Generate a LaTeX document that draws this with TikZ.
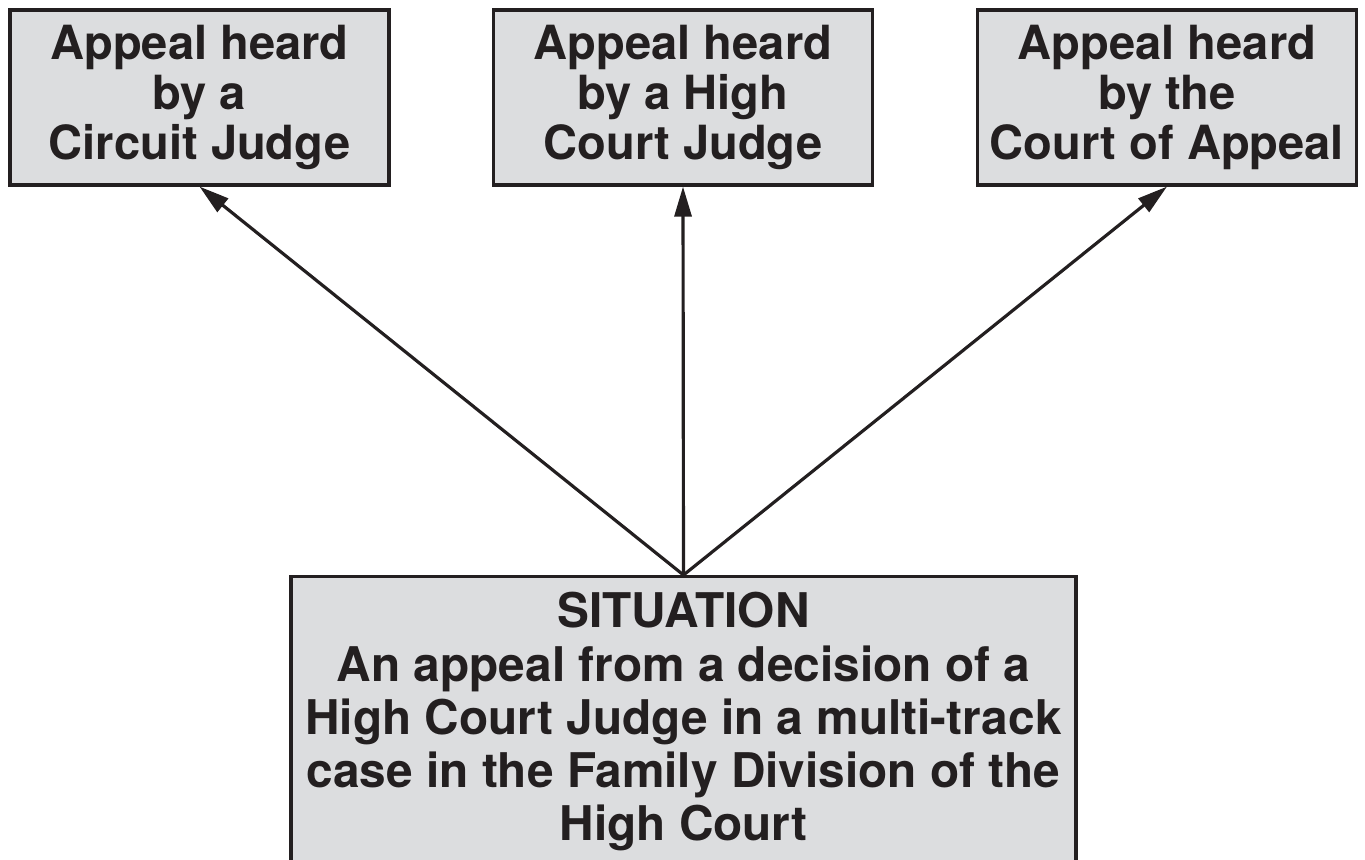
\documentclass[tikz,border=0pt]{standalone}
\usepackage{fontspec}
\setmainfont{TeX Gyre Heros}
\usetikzlibrary{arrows.meta}
\definecolor{boxgray}{HTML}{DCDDDF}
\definecolor{inkdark}{HTML}{231F20}
\tikzset{
	court/.style = { draw = inkdark, fill = boxgray, line width = 0.9pt, text = inkdark, align = center,
		inner sep = 0pt, minimum width = 3.79cm, minimum height = 1.75cm,
		font = \fontsize{13.4pt}{14.2pt}\selectfont\bfseries },
	situation/.style = { court, minimum width = 7.85cm, minimum height = 2.9cm,
		font = \fontsize{13.6pt}{15.1pt}\selectfont\bfseries },
	appeal/.style = { draw = inkdark, line width = 0.9pt, -{Triangle[length=3mm, width=1.7mm]} }
}
\begin{document}
\begin{tikzpicture}
		\clip ( 0.00, 0.00 ) rectangle ( 13.65, 8.59 );

		% courts
		\node [court] (circuit) at ( 1.995, 7.615 ) {Appeal heard\\by a\\Circuit Judge};
		\node [court] (highcourt) at ( 6.83, 7.615 ) {Appeal heard\\by a High\\Court Judge};
		\node [court] (appealcourt) at ( 11.67, 7.615 ) {Appeal heard\\by the\\Court of Appeal};

		% situation
		\node [situation, anchor = north] (sit) at ( 6.835, 2.84 )
			{SITUATION\\An appeal from a decision of a\\High Court Judge in a multi-track\\case in the Family Division of the\\High Court};

		% arrows
		\draw [appeal] (sit.north) -- (circuit.south);
		\draw [appeal] (sit.north) -- (highcourt.south);
		\draw [appeal] (sit.north) -- (appealcourt.south);
	\end{tikzpicture}
\end{document}
